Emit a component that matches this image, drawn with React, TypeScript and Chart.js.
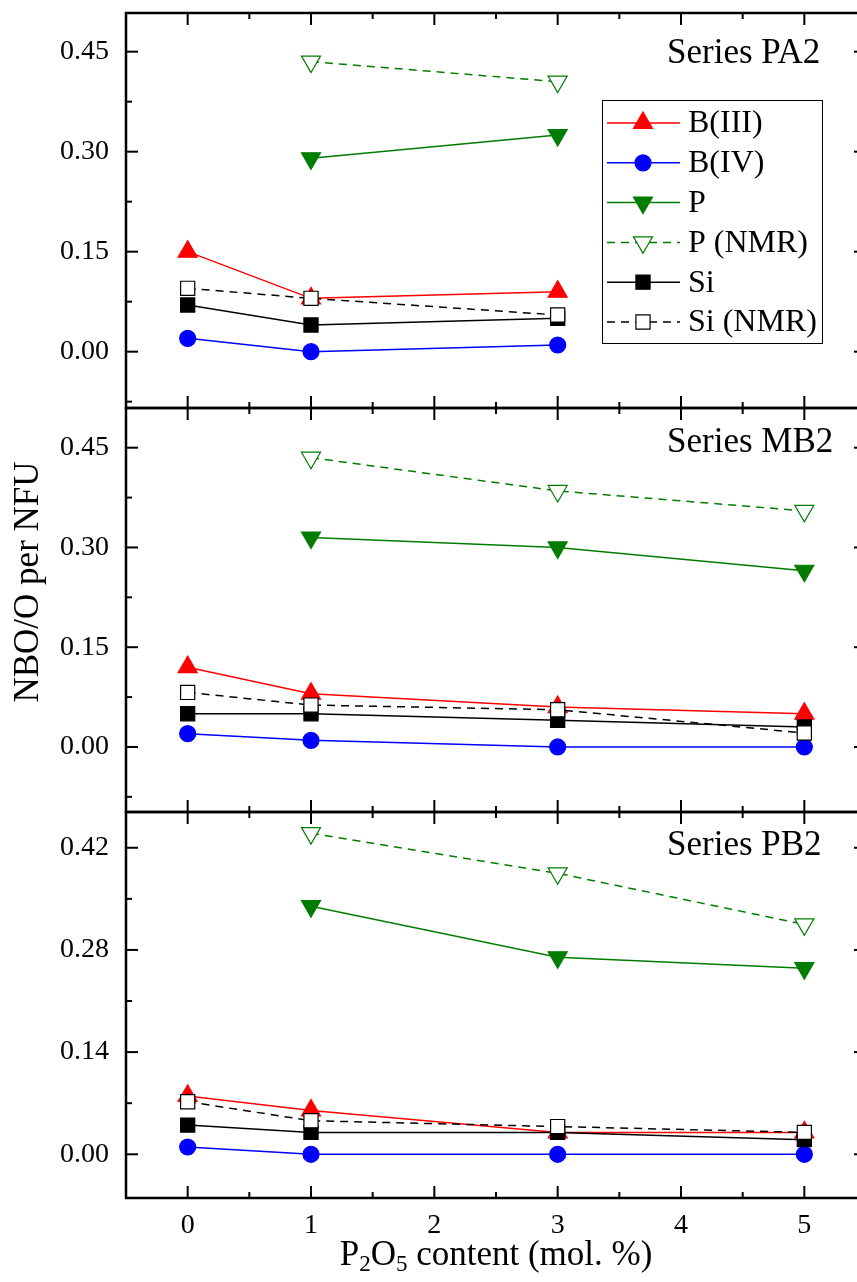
import React, { useEffect, useRef } from 'react';
import { Chart, registerables } from 'chart.js';
Chart.register(...registerables);

const SERIF = '"Liberation Serif", "Times New Roman", Times, serif';

// P2O5 content (mol. %) of each series
const X_PA2 = [0, 1, 3];
const X_MB2 = [0, 1, 3, 5];
const X_PB2 = [0, 1, 3, 5];

// Series PA2
const PA2_B3 = [0.15, 0.08, 0.09];
const PA2_B4 = [0.02, 0.0, 0.01];
const PA2_P = [null, 0.29, 0.325];
const PA2_P_NMR = [null, 0.435, 0.405];
const PA2_SI = [0.07, 0.04, 0.05];
const PA2_SI_NMR = [0.095, 0.08, 0.055];

// Series MB2
const MB2_B3 = [0.12, 0.08, 0.06, 0.05];
const MB2_B4 = [0.02, 0.01, 0.0, 0.0];
const MB2_P = [null, 0.315, 0.3, 0.265];
const MB2_P_NMR = [null, 0.435, 0.385, 0.355];
const MB2_SI = [0.05, 0.05, 0.04, 0.03];
const MB2_SI_NMR = [0.082, 0.063, 0.056, 0.021];

// Series PB2
const PB2_B3 = [0.08, 0.06, 0.03, 0.03];
const PB2_B4 = [0.01, 0.0, 0.0, 0.0];
const PB2_P = [null, 0.34, 0.27, 0.255];
const PB2_P_NMR = [null, 0.44, 0.385, 0.315];
const PB2_SI = [0.04, 0.03, 0.03, 0.02];
const PB2_SI_NMR = [0.072, 0.046, 0.038, 0.03];

const SERIES_LABELS = ['B(III)', 'B(IV)', 'P', 'P (NMR)', 'Si', 'Si (NMR)'];
const PANEL_LABELS = ['Series PA2', 'Series MB2', 'Series PB2'];
const X_TICKS = [0, 1, 2, 3, 4, 5];
const Y_STEPS = [0.15, 0.15, 0.14];
const Y_TITLE = 'NBO/O per NFU';

const GREEN = '#007d00';
const STYLES = [
  { color: '#ff0000', fill: '#ff0000', style: 'triangle', rot: 0, r: 11, dash: [] },
  { color: '#0000ff', fill: '#0000ff', style: 'circle', rot: 0, r: 8, dash: [] },
  { color: GREEN, fill: GREEN, style: 'triangle', rot: 180, r: 11, dash: [] },
  { color: GREEN, fill: '#ffffff', style: 'triangle', rot: 180, r: 11, dash: [8, 6] },
  { color: '#000000', fill: '#000000', style: 'rect', r: 10, rot: 0, dash: [] },
  { color: '#000000', fill: '#ffffff', style: 'rect', r: 10, rot: 0, dash: [8, 6] },
];

const CW = 880;
const CH = 1282;
const PLOT_LEFT = 126;
const PLOT_RIGHT = 866;

const PANELS = [
  { x: X_PA2, vals: [PA2_B3, PA2_B4, PA2_P, PA2_P_NMR, PA2_SI, PA2_SI_NMR], label: PANEL_LABELS[0], step: Y_STEPS[0], min: -0.0845, max: 0.508, top: 13, bottom: 408, labelY: 63, legend: true },
  { x: X_MB2, vals: [MB2_B3, MB2_B4, MB2_P, MB2_P_NMR, MB2_SI, MB2_SI_NMR], label: PANEL_LABELS[1], step: Y_STEPS[1], min: -0.0978, max: 0.5097, top: 408, bottom: 812, labelY: 452, yTitle: true },
  { x: X_PB2, vals: [PB2_B3, PB2_B4, PB2_P, PB2_P_NMR, PB2_SI, PB2_SI_NMR], label: PANEL_LABELS[2], step: Y_STEPS[2], min: -0.0599, max: 0.469, top: 812, bottom: 1198, labelY: 855, xLabels: true },
];

function drawMarker(ctx: CanvasRenderingContext2D, s: any, x: number, y: number) {
  const r = s.r;
  ctx.save();
  ctx.fillStyle = s.fill;
  ctx.strokeStyle = s.color;
  ctx.lineWidth = 1.2;
  ctx.setLineDash([]);
  ctx.beginPath();
  if (s.style === 'circle') {
    ctx.arc(x, y, r, 0, Math.PI * 2);
  } else if (s.style === 'rect') {
    const h = Math.SQRT1_2 * r;
    ctx.rect(x - h, y - h, 2 * h, 2 * h);
  } else {
    let rad = (s.rot * Math.PI) / 180;
    ctx.moveTo(x + Math.sin(rad) * r, y - Math.cos(rad) * r);
    rad += (2 * Math.PI) / 3;
    ctx.lineTo(x + Math.sin(rad) * r, y - Math.cos(rad) * r);
    rad += (2 * Math.PI) / 3;
    ctx.lineTo(x + Math.sin(rad) * r, y - Math.cos(rad) * r);
    ctx.closePath();
  }
  ctx.fill();
  ctx.stroke();
  ctx.restore();
}

function makeConfig(p: any, idx: number): any {
  const datasets = SERIES_LABELS.map((lab, i) => {
    const s = STYLES[i];
    return {
      label: lab,
      data: p.x.map((xv: number, j: number) => ({ x: xv, y: p.vals[i][j] })),
      borderColor: s.color,
      backgroundColor: s.fill,
      borderWidth: 1.5,
      borderDash: s.dash,
      pointStyle: s.style,
      pointRotation: s.rot,
      pointRadius: s.r,
      pointHoverRadius: s.r,
      pointBackgroundColor: s.fill,
      pointBorderColor: s.color,
      pointBorderWidth: 1.2,
      tension: 0,
      fill: false,
      order: 10 - i,
    };
  });

  const minor = p.step / 2;

  const deco = {
    id: 'deco' + idx,
    afterDraw(chart: any) {
      const { ctx, chartArea: a, scales } = chart;
      const xs = scales.x;
      const ys = scales.y;
      ctx.save();
      ctx.strokeStyle = '#000';
      ctx.lineWidth = 2;
      const line = (x1: number, y1: number, x2: number, y2: number) => {
        ctx.beginPath();
        ctx.moveTo(x1, y1);
        ctx.lineTo(x2, y2);
        ctx.stroke();
      };
      for (let k = -1; k <= 11; k++) {
        const v = k * 0.5;
        const px = xs.getPixelForValue(v);
        if (px <= a.left + 2 || px >= a.right - 2) continue;
        const len = k % 2 === 0 ? 12 : 6;
        line(px, a.bottom, px, a.bottom - len);
        line(px, a.top, px, a.top + len);
      }
      const k0 = Math.ceil(ys.min / minor - 1e-6);
      const k1 = Math.floor(ys.max / minor + 1e-6);
      for (let k = k0; k <= k1; k++) {
        const py = ys.getPixelForValue(k * minor);
        if (py <= a.top + 2 || py >= a.bottom - 2) continue;
        const len = k % 2 === 0 ? 12 : 6;
        line(a.left, py, a.left + len, py);
        line(a.right, py, a.right - len, py);
      }
      ctx.lineWidth = 2.5;
      ctx.strokeRect(a.left, a.top, a.right - a.left, a.bottom - a.top);

      // panel label
      ctx.fillStyle = '#000';
      ctx.font = `35px ${SERIF}`;
      ctx.textAlign = 'left';
      ctx.textBaseline = 'alphabetic';
      ctx.fillText(p.label, 667, p.labelY);

      if (p.legend) {
        ctx.lineWidth = 1;
        ctx.fillStyle = '#fff';
        ctx.fillRect(602, 100, 220, 243);
        ctx.strokeRect(602.5, 100.5, 220, 243);
        chart.data.datasets.forEach((ds: any, i: number) => {
          const y = 123 + i * 39.8;
          const s = STYLES[i];
          ctx.save();
          ctx.strokeStyle = ds.borderColor;
          ctx.lineWidth = ds.borderWidth;
          ctx.setLineDash(ds.borderDash || []);
          ctx.beginPath();
          ctx.moveTo(607, y);
          ctx.lineTo(680, y);
          ctx.stroke();
          ctx.restore();
          drawMarker(ctx, s, 643, y);
          ctx.fillStyle = '#000';
          ctx.font = `32px ${SERIF}`;
          ctx.textAlign = 'left';
          ctx.textBaseline = 'middle';
          ctx.fillText(ds.label, 688, y + 1);
        });
      }

      if (p.yTitle) {
        ctx.save();
        ctx.translate(38, 582);
        ctx.rotate(-Math.PI / 2);
        ctx.fillStyle = '#000';
        ctx.font = `35px ${SERIF}`;
        ctx.textAlign = 'center';
        ctx.textBaseline = 'alphabetic';
        ctx.fillText(Y_TITLE, 0, 0);
        ctx.restore();
      }

      if (p.xLabels) {
        // x-axis title with subscripts
        const big = `35px ${SERIF}`;
        const small = `23px ${SERIF}`;
        const parts: [string, boolean][] = [['P', false], ['2', true], ['O', false], ['5', true], [' content (mol. %)', false]];
        let total = 0;
        parts.forEach(([t, sub]) => {
          ctx.font = sub ? small : big;
          total += ctx.measureText(t).width;
        });
        let x = (a.left + a.right) / 2 - total / 2;
        const base = 1265;
        ctx.fillStyle = '#000';
        ctx.textAlign = 'left';
        ctx.textBaseline = 'alphabetic';
        parts.forEach(([t, sub]) => {
          ctx.font = sub ? small : big;
          ctx.fillText(t, x, sub ? base + 6 : base);
          x += ctx.measureText(t).width;
        });
      }
      ctx.restore();
    },
  };

  return {
    type: 'line',
    data: { datasets },
    options: {
      animation: false,
      responsive: false,
      devicePixelRatio: 1,
      events: [],
      layout: {
        padding: {
          left: 0,
          right: CW - PLOT_RIGHT,
          top: p.top,
          bottom: p.xLabels ? 0 : CH - p.bottom,
        },
      },
      plugins: { legend: { display: false }, tooltip: { enabled: false }, title: { display: false } },
      scales: {
        x: {
          type: 'linear',
          position: 'bottom',
          min: -0.5,
          max: 5.5,
          border: { display: false },
          grid: { display: false, drawTicks: false },
          afterBuildTicks: (sc: any) => {
            sc.ticks = X_TICKS.map((v) => ({ value: v }));
          },
          ticks: {
            display: !!p.xLabels,
            color: '#000',
            font: { family: SERIF, size: 28 },
            padding: 11,
            maxRotation: 0,
            autoSkip: false,
            callback: (v: any) => String(v),
          },
          afterFit: (sc: any) => {
            sc.height = p.xLabels ? CH - p.bottom : 0;
            sc.paddingLeft = 0;
            sc.paddingRight = 0;
          },
        },
        y: {
          type: 'linear',
          position: 'left',
          min: p.min,
          max: p.max,
          border: { display: false },
          grid: { display: false, drawTicks: false },
          ticks: {
            stepSize: p.step,
            includeBounds: false,
            color: '#000',
            font: { family: SERIF, size: 28 },
            padding: 17,
            callback: (v: any) => Number(v).toFixed(2),
          },
          afterFit: (sc: any) => {
            sc.width = PLOT_LEFT;
            sc.paddingTop = 0;
            sc.paddingBottom = 0;
          },
        },
      },
    },
    plugins: [deco],
  };
}

export default function App() {
  const r0 = useRef<HTMLCanvasElement>(null);
  const r1 = useRef<HTMLCanvasElement>(null);
  const r2 = useRef<HTMLCanvasElement>(null);
  const refs = [r0, r1, r2];

  useEffect(() => {
    const charts = PANELS.map((p, i) => new Chart(refs[i].current as HTMLCanvasElement, makeConfig(p, i)));
    return () => charts.forEach((c) => c.destroy());
  }, []);

  return (
    <div style={{ position: 'fixed', left: 0, top: 0, width: 857, height: CH, overflow: 'hidden', background: '#fff' }}>
      {PANELS.map((p, i) => (
        <canvas
          key={i}
          ref={refs[i]}
          width={CW}
          height={CH}
          style={{ position: 'absolute', left: 0, top: 0, width: CW, height: CH }}
        />
      ))}
    </div>
  );
}
